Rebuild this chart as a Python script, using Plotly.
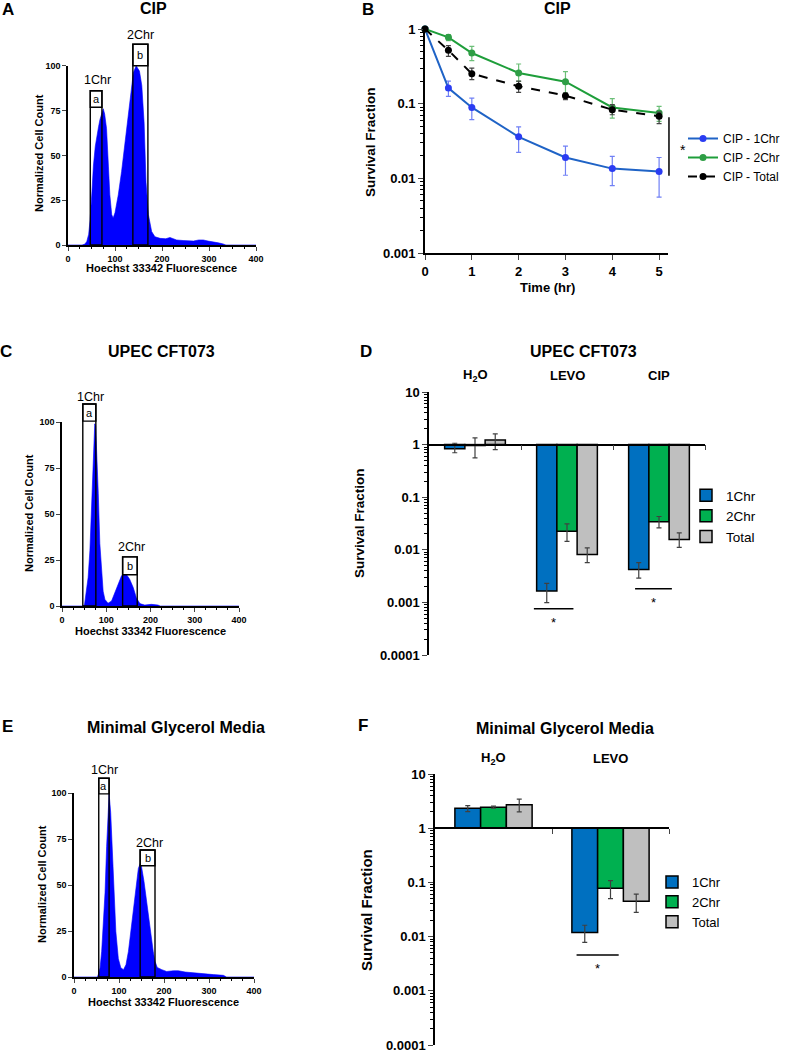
import plotly.graph_objects as go
import numpy as np

W, H = 789, 1050
def fx(p): return p / W
def fy(p): return 1 - p / H

# ---------------- DATA ----------------
# Panel A histogram (CIP)
A_x = [0, 30, 36, 40, 44, 47, 51, 54, 58, 61, 65, 68, 72, 75, 78, 82, 86, 89, 93, 96, 100, 107, 114, 121, 128,
       133, 139, 145, 148, 152, 157, 162, 166, 171, 178, 185, 196, 208, 217, 225, 231, 245, 258, 267, 278, 288,
       298, 309, 320, 330, 336, 400]
A_y = [0, 0, 0.5, 2, 6, 14, 30, 44, 55, 61, 66, 70, 74, 76, 73, 65, 44, 28, 17, 15, 18, 28, 41, 56, 72,
       85, 96, 100, 99, 97, 89, 68, 35, 17, 7.5, 4.6, 3.7, 3.5, 4.2, 3.5, 2.8, 2.5, 2.2, 2.2, 2.8, 2.8,
       2.2, 1.9, 1.2, 0.6, 0, 0]
# Panel C histogram (UPEC CFT073)
C_x = [0, 48, 51, 55, 59, 63, 67, 70.5, 74, 76, 78, 82, 85.5, 89.5, 93, 97, 104, 112, 119.5, 127, 134.5, 140,
       146, 153, 161, 168, 176, 187, 202, 217, 222, 400]
C_y = [0, 0, 1, 7, 15.5, 30, 52, 79, 99, 98, 88, 61, 34, 17, 8, 3.6, 1.5, 2.7, 7.3, 12.7, 16.4, 17.6,
       17, 14.5, 10, 4.5, 1.3, 0.5, 0.9, 0.5, 0, 0]
# Panel E histogram (Minimal Glycerol Media)
E_x = [0, 52, 55, 58, 61.5, 65, 69, 72.5, 76, 78, 81.5, 85, 89, 93, 98.5, 104, 110, 115.5, 121, 126, 132, 138,
       143, 147, 150, 155.5, 160, 165, 170, 176, 180, 185, 195, 206, 221, 232, 247, 265, 287, 310, 332, 339, 400]
E_y = [0, 0, 2, 5, 14, 28, 46, 71, 93, 99.5, 89.5, 68, 44.5, 24.7, 10, 5, 4, 6.7, 14, 24.7, 37, 50,
       59, 61.6, 60, 52, 43, 33.7, 24.7, 14, 8.5, 5.2, 4, 3, 3.4, 3.4, 2.7, 2.2, 1.6, 1.3, 0.9, 0, 0]

# Gates: lo, hi, top, label line, letter, chromosome label, label x, label y
A_gates = [(47.4, 72.2, 86, 76.8, "a", "1Chr", 62, 92), (138, 170, 112, 100, "b", "2Chr", 153.6, 117)]
C_gates = [(47, 76.5, 109.8, 100.5, "a", "1Chr", 64.5, 113.5), (137, 170, 26.7, 17, "b", "2Chr", 158, 32)]
E_gates = [(55, 78, 108, 99.5, "a", "1Chr", 67.4, 112.6), (147, 180, 69, 60.5, "b", "2Chr", 167.4, 73)]

# Panel B: survival time course
B_time = [0, 0.5, 1, 2, 3, 4, 5]
B_1chr = [1, 0.162, 0.089, 0.036, 0.019, 0.0135, 0.0123]
B_1chr_hi = [1, 0.200, 0.119, 0.049, 0.027, 0.0197, 0.019]
B_1chr_lo = [1, 0.125, 0.061, 0.0223, 0.011, 0.008, 0.0056]
B_2chr = [1, 0.773, 0.477, 0.258, 0.197, 0.089, 0.075]
B_2chr_hi = [1, 0.84, 0.586, 0.34, 0.268, 0.117, 0.092]
B_2chr_lo = [1, 0.70, 0.376, 0.199, 0.139, 0.064, 0.058]
B_tot = [1, 0.518, 0.252, 0.171, 0.128, 0.083, 0.068]
B_tot_hi = [1, 0.598, 0.30, 0.20, 0.139, 0.097, 0.077]
B_tot_lo = [1, 0.43, 0.21, 0.142, 0.113, 0.071, 0.054]
B_sig = (0.066, 0.0108)

# Panel D: UPEC CFT073 survival
D_cats = ["H<sub>2</sub>O", "LEVO", "CIP"]
D_1chr = [0.83, 0.00164, 0.0042]
D_1chr_hi = [1.06, 0.0023, 0.0057]
D_1chr_lo = [0.70, 0.00099, 0.0029]
D_2chr = [0.96, 0.0226, 0.034]
D_2chr_hi = [1.34, 0.031, 0.043]
D_2chr_lo = [0.56, 0.0144, 0.026]
D_tot = [1.22, 0.0081, 0.0157]
D_tot_hi = [1.6, 0.0109, 0.021]
D_tot_lo = [0.80, 0.0057, 0.0111]
D_sig = [(0.64, 1.07, 0.00076, 0.00042), (1.74, 2.14, 0.00182, 0.00100)]  # x0, x1, line y, star y

# Panel F: Minimal Glycerol Media survival
F_cats = ["H<sub>2</sub>O", "LEVO"]
F_1chr = [2.34, 0.0119]
F_1chr_hi = [2.6, 0.0162]
F_1chr_lo = [2.03, 0.0078]
F_2chr = [2.44, 0.078]
F_2chr_hi = [2.55, 0.108]
F_2chr_lo = [2.34, 0.05]
F_tot = [2.7, 0.045]
F_tot_hi = [3.43, 0.061]
F_tot_lo = [2.0, 0.028]
F_sig = [(0.71, 1.07, 0.0046, 0.0026)]

# ---------------- FIGURE ----------------
FONT = "Arial"
BLUE, GREEN, GRAY = "#0070C0", "#00B050", "#BFBFBF"
fig = go.Figure()
shapes, annots = [], []

def bold(size):
    return dict(family=FONT, size=size, color="black", weight="bold")

def note(x, y, text, font, xref="paper", yref="paper", **kw):
    d = dict(xref=xref, yref=yref, x=x, y=y, text=text, showarrow=False, font=font,
             xanchor="center", yanchor="middle")
    d.update(kw)
    annots.append(d)

hist_panels = [
    ("x", "y", A_x, A_y, A_gates, (68, 256), (65.7, 245)),
    ("x3", "y3", C_x, C_y, C_gates, (62, 239), (422, 606)),
    ("x5", "y5", E_x, E_y, E_gates, (74, 254), (793, 977)),
]
layout_axes = {}
for xa, ya, hx, hy, gates, (xl, xr), (yt, yb) in hist_panels:
    fig.add_trace(go.Scatter(x=hx, y=hy, mode="lines", fill="tozeroy", fillcolor="#0000FF",
                             line=dict(color="#0000FF", width=0.6), xaxis=xa, yaxis=ya,
                             showlegend=False, hoverinfo="skip"))
    xkey = "xaxis" + xa[1:]
    ykey = "yaxis" + ya[1:]
    layout_axes[xkey] = dict(domain=[fx(xl), fx(xr)], range=[0, 400], anchor=ya, showline=True,
                             linecolor="black", linewidth=1.5, ticks="outside", ticklen=4,
                             tickvals=[0, 100, 200, 300, 400], tickfont=bold(9), showgrid=False,
                             zeroline=False, automargin=False, ticklabeloverflow="allow",
                             minor=dict(ticks="outside", ticklen=2, dtick=25, tickcolor="black"))
    layout_axes[ykey] = dict(domain=[fy(yb), fy(yt)], range=[0, 100], anchor=xa, showline=True,
                             linecolor="black", linewidth=1.5, ticks="outside", ticklen=4,
                             tickvals=[0, 25, 50, 75, 100], tickfont=bold(9), showgrid=False,
                             zeroline=False, automargin=False, ticklabeloverflow="allow")
    # data -> paper helpers for this panel (axis ranges 0..400 and 0..100)
    px_ = lambda v, xl=xl, xr=xr: fx(xl + v / 400 * (xr - xl))
    py_ = lambda v, yt=yt, yb=yb: fy(yb - v / 100 * (yb - yt))
    for lo, hi, top, line, lab, chrlab, tx, ty in gates:
        xr_ = xa + " domain"
        yr_ = ya + " domain"
        shapes.append(dict(type="rect", xref=xr_, yref=yr_, x0=lo / 400, x1=hi / 400, y0=line / 100,
                           y1=top / 100, fillcolor="white", line=dict(color="black", width=1.4), layer="above"))
        shapes.append(dict(type="rect", xref=xr_, yref=yr_, x0=lo / 400, x1=hi / 400, y0=0, y1=top / 100,
                           line=dict(color="black", width=1.4), layer="above"))
        note(px_((lo + hi) / 2), py_((line + top) / 2), lab, dict(family=FONT, size=11, color="black"))
        note(px_(tx), py_(ty), chrlab, dict(family=FONT, size=12.5, color="black"))

# histogram axis titles
for x, y in [(161, 268), (150, 631), (163, 1002)]:
    note(fx(x), fy(y), "Hoechst 33342 Fluorescence", bold(11))
for x, y in [(39, 153), (29, 513), (42, 884)]:
    note(fx(x), fy(y), "Normalized Cell Count", bold(11), textangle=-90)

# ---------- Panel B ----------
def err(v, hi, lo):
    return dict(type="data", symmetric=False, array=[h - a for a, h in zip(v, hi)],
                arrayminus=[a - l for a, l in zip(v, lo)], thickness=1.2, width=2.5)

series_B = [
    ("CIP - 1Chr", B_1chr, B_1chr_hi, B_1chr_lo, "#1F63C6", "#2A3CF2", "#7080F5", "solid"),
    ("CIP - 2Chr", B_2chr, B_2chr_hi, B_2chr_lo, "#1E9E3A", "#2E9E45", "#6CBF78", "solid"),
    ("CIP - Total", B_tot, B_tot_hi, B_tot_lo, "black", "black", "#444444", "dash"),
]
for name, v, hi, lo, lc, mc, ec, dash in series_B:
    e = err(v, hi, lo)
    e["color"] = ec
    fig.add_trace(go.Scatter(x=B_time, y=v, mode="lines+markers", name=name, xaxis="x2", yaxis="y2",
                             line=dict(color=lc, width=2, dash=dash), marker=dict(color=mc, size=7),
                             error_y=e, cliponaxis=False, legend="legend"))

log_ticks = lambda lo, hi: [10.0 ** k for k in range(lo, hi + 1)]
def lab(v):
    return ("%g" % v) if v >= 1 else ("%.*f" % (int(round(-np.log10(v))), v))
def minor_vals(lo, hi):
    return [m * 10.0 ** k for k in range(lo, hi) for m in range(2, 10)]

layout_axes["xaxis2"] = dict(domain=[fx(425), fx(668)], range=[0, 5.19], anchor="y2", showline=True,
                             linecolor="black", linewidth=1.8, ticks="outside", ticklen=5,
                             tickvals=[0, 1, 2, 3, 4, 5], tickfont=bold(13), showgrid=False, zeroline=False,
                             automargin=False, ticklabeloverflow="allow")
tv = log_ticks(-3, 0)
layout_axes["yaxis2"] = dict(domain=[fy(253), fy(29)], type="log", range=[-3, 0], anchor="x2", showline=True,
                             linecolor="black", linewidth=1.8, ticks="outside", ticklen=5,
                             tickvals=tv, ticktext=[lab(t) for t in tv], tickfont=bold(13), showgrid=False,
                             zeroline=False, automargin=False, ticklabeloverflow="allow",
                             minor=dict(ticks="outside", ticklen=3, tickmode="array",
                                        tickvals=minor_vals(-3, 0), tickcolor="black"))
shapes.append(dict(type="line", xref="x2 domain", yref="y2", x0=1.004, x1=1.004, y0=B_sig[0], y1=B_sig[1],
                   line=dict(color="black", width=1.5)))
note(fx(683), fy(150), "*", dict(family=FONT, size=14, color="black"))
note(fx(370), fy(142), "Survival Fraction", bold(13.5), textangle=-90)
note(fx(547), fy(287), "Time (hr)", bold(13))

# ---------- Panels D and F (bars) ----------
OFF = [-0.22, 0.0, 0.22]
def add_bar_panel(xa, ya, cats, series, legend_name):
    for k, (name, v, hi, lo, col) in enumerate(series):
        xs = [i + OFF[k] for i in range(len(cats))]
        fig.add_trace(go.Bar(x=xs, y=[a - 1 for a in v], base=[1] * len(v), width=0.22, name=name,
                             marker=dict(color=col, line=dict(color="black", width=1.5)),
                             xaxis=xa, yaxis=ya, legend=legend_name))
        e = err(v, hi, lo)
        e["color"] = "#404040"
        fig.add_trace(go.Scatter(x=xs, y=v, mode="markers", marker=dict(size=1, color="rgba(0,0,0,0)"),
                                 error_y=e, xaxis=xa, yaxis=ya, showlegend=False, hoverinfo="skip"))

add_bar_panel("x4", "y4", D_cats, [("1Chr", D_1chr, D_1chr_hi, D_1chr_lo, BLUE),
                                   ("2Chr", D_2chr, D_2chr_hi, D_2chr_lo, GREEN),
                                   ("Total", D_tot, D_tot_hi, D_tot_lo, GRAY)], "legend2")
add_bar_panel("x6", "y6", F_cats, [("1Chr", F_1chr, F_1chr_hi, F_1chr_lo, BLUE),
                                   ("2Chr", F_2chr, F_2chr_hi, F_2chr_lo, GREEN),
                                   ("Total", F_tot, F_tot_hi, F_tot_lo, GRAY)], "legend3")

def bar_axes(xkey, ykey, xa, ya, xl, xr, yt, yb, ncat, lblsize):
    pos_one = fy(yt + (yb - yt) * 1 / 5)  # y = 1 on a 5-decade log axis (10 .. 0.0001)
    layout_axes[xkey] = dict(domain=[fx(xl), fx(xr)], range=[-0.5, ncat - 0.5], anchor="free",
                             position=pos_one, showline=True, linecolor="black", linewidth=1.5,
                             ticks="outside", ticklen=5, tickvals=[i + 0.5 for i in range(ncat)],
                             showticklabels=False, showgrid=False, zeroline=False, automargin=False)
    tv = log_ticks(-4, 1)[::-1]
    layout_axes[ykey] = dict(domain=[fy(yb), fy(yt)], type="log", range=[-4, 1], anchor=xa, showline=True,
                             linecolor="black", linewidth=1.5, ticks="outside", ticklen=5,
                             tickvals=tv, ticktext=[lab(t) for t in tv], tickfont=bold(lblsize),
                             showgrid=False, zeroline=False, automargin=False, ticklabeloverflow="allow",
                             minor=dict(ticks="outside", ticklen=3, tickmode="array",
                                        tickvals=minor_vals(-4, 1), tickcolor="black"))

bar_axes("xaxis4", "yaxis4", "x4", "y4", 429, 705, 392, 655, len(D_cats), 13)
bar_axes("xaxis6", "yaxis6", "x6", "y6", 435, 669, 774, 1045, len(F_cats), 13)

for xa, ya, sigs in [("x4", "y4", D_sig), ("x6", "y6", F_sig)]:
    for x0, x1, yl, ys in sigs:
        shapes.append(dict(type="line", xref=xa, yref=ya, x0=x0, x1=x1, y0=yl, y1=yl,
                           line=dict(color="black", width=1.5)))
        note((x0 + x1) / 2, np.log10(ys), "*", dict(family=FONT, size=13, color="black"), xref=xa, yref=ya)

for i, c in enumerate(D_cats):
    note(i, fy(375), c, bold(13), xref="x4")
for i, c in enumerate(F_cats):
    note(i, fy(758), c, bold(13), xref="x6")

note(fx(359), fy(523), "Survival Fraction", bold(13.5), textangle=-90)
note(fx(366), fy(910), "Survival Fraction", bold(15), textangle=-90)

# ---------- Titles and panel letters ----------
for txt, x, y in [("CIP", 153, 9), ("CIP", 557, 9), ("UPEC CFT073", 161, 351), ("UPEC CFT073", 583, 351),
                  ("Minimal Glycerol Media", 176, 727), ("Minimal Glycerol Media", 565, 728)]:
    note(fx(x), fy(y), txt, bold(16))
for txt, x, y in [("A", 8, 10), ("B", 368, 10), ("C", 6, 351), ("D", 366, 351), ("E", 8, 726), ("F", 363, 725)]:
    note(fx(x), fy(y), txt, bold(17))

fig.update_layout(
    width=W, height=H, margin=dict(l=0, r=0, t=0, b=0, autoexpand=False), paper_bgcolor="white",
    plot_bgcolor="white", font=dict(family=FONT, color="black"), shapes=shapes, annotations=annots,
    barmode="overlay",
    legend=dict(x=fx(683), y=fy(124), xanchor="left", yanchor="top", font=dict(family=FONT, size=12),
                bgcolor="rgba(0,0,0,0)", tracegroupgap=0),
    legend2=dict(x=fx(686), y=fy(480), xanchor="left", yanchor="top", font=dict(family=FONT, size=13.5),
                 bgcolor="rgba(0,0,0,0)"),
    legend3=dict(x=fx(652), y=fy(867), xanchor="left", yanchor="top", font=dict(family=FONT, size=13),
                 bgcolor="rgba(0,0,0,0)"),
    **layout_axes,
)
fig.write_html("out.html", config={"displayModeBar": False},
               post_script="document.body.style.margin='0';document.body.style.overflow='hidden';")
